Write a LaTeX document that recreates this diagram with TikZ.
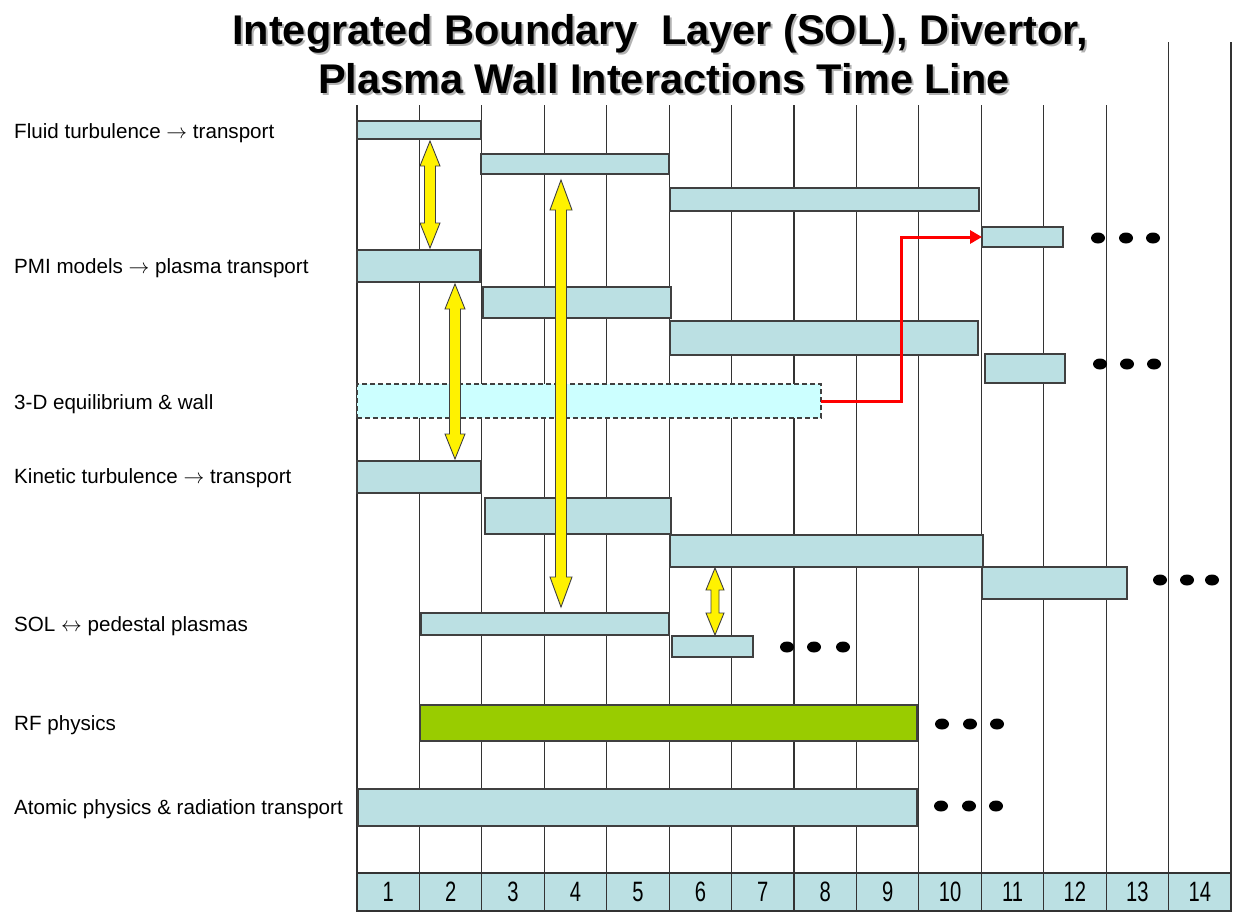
\documentclass[tikz,border=0pt]{standalone}
\usepackage{fontspec}
\setmainfont{Liberation Sans}
\usetikzlibrary{arrows.meta,calc}
\definecolor{barblue}{HTML}{BBE0E3}
\definecolor{eqcyan}{HTML}{CCFFFF}
\definecolor{rfgreen}{HTML}{99CC00}
\definecolor{edge}{HTML}{404040}
\definecolor{redline}{HTML}{FF0000}
\tikzset{
  bar/.style={draw=edge, fill=barblue, line width=1.1pt, inner sep=0pt, outer sep=0pt},
  greenbar/.style={bar, fill=rfgreen},
  eqbar/.style={bar, fill=eqcyan, dashed, dash pattern=on 5pt off 3pt},
  gridline/.style={draw=black!80, line width=1.1pt},
  cell/.style={draw=black!80, fill=barblue, line width=1.1pt, inner sep=0pt, outer sep=0pt,
    minimum width=62.43pt, minimum height=38pt, anchor=north west},
  rowlabel/.style={anchor=west, inner sep=0pt, font=\fontsize{20.6}{24}\selectfont},
  yarrow/.style={draw=edge, fill=yellow, line width=0.9pt, line join=miter},
  dot/.style={fill=black},
  link/.style={draw=redline, line width=3pt, -{Triangle[length=12pt,width=13pt]}},
  titletext/.style={font=\fontsize{41.5}{46}\selectfont\bfseries},
}
\newcommand\tbar[6]{\node[#6, anchor=north west, minimum width={(#4-#2)*1pt}, minimum height={(#5-#3)*1pt}] (#1) at (#2,#3) {};}
% x, from node (south), to node (north), shaft half, head half, head length, shrink
\newcommand\dblarrow[7]{%
  \draw[yarrow] let \p1=(#2.south), \p2=(#3.north) in
   (#1pt,{\y1-#7pt}) -- ({#1pt+#5pt},{\y1-#7pt-#6pt}) -- ({#1pt+#4pt},{\y1-#7pt-#6pt})
   -- ({#1pt+#4pt},{\y2+#7pt+#6pt}) -- ({#1pt+#5pt},{\y2+#7pt+#6pt}) -- (#1pt,{\y2+#7pt})
   -- ({#1pt-#5pt},{\y2+#7pt+#6pt}) -- ({#1pt-#4pt},{\y2+#7pt+#6pt})
   -- ({#1pt-#4pt},{\y1-#7pt-#6pt}) -- ({#1pt-#5pt},{\y1-#7pt-#6pt}) -- cycle;}
\newcommand\blackdot[2]{\fill[dot] (#1,#2) ellipse [x radius=7pt, y radius=5.5pt];}
\begin{document}
\begin{tikzpicture}[x=1pt,y=-1pt]
\fill[white] (0,0) rectangle (1234,911);
\useasboundingbox (0,0) rectangle (1234,911);
% title
\node[titletext, text=black!30] at (662,36) {Integrated Boundary\ \ Layer (SOL), Divertor,};
\node[titletext] (t1) at (660,34) {Integrated Boundary\ \ Layer (SOL), Divertor,};
\node[titletext, text=black!30] at (666,81) {Plasma Wall Interactions Time Line};
\node[titletext] (t2) at (664,79) {Plasma Wall Interactions Time Line};
% grid lines
\foreach \i in {0,...,12} {\draw[gridline] ({357+\i*62.43},105) -- ({357+\i*62.43},911);}
\foreach \i in {13,14} {\draw[gridline] ({357+\i*62.43},42) -- ({357+\i*62.43},911);}
% axis cells
\foreach \i in {1,...,14} {
  \node[cell] (c\i) at ({357+(\i-1)*62.43},873) {};
  \node[font=\fontsize{28}{30}\selectfont, xscale=0.72] at (c\i.center) {\i};
}
% labels
\node[rowlabel] (l1) at (14,133) {Fluid turbulence $\rightarrow$ transport};
\node[rowlabel] (l2) at (14,268) {PMI models $\rightarrow$ plasma transport};
\node[rowlabel] (l3) at (14,404) {3-D equilibrium \& wall};
\node[rowlabel] (l4) at (14,478) {Kinetic turbulence $\rightarrow$ transport};
\node[rowlabel] (l5) at (14,626) {SOL $\leftrightarrow$ pedestal plasmas};
\node[rowlabel] (l6) at (14,725) {RF physics};
\node[rowlabel] (l7) at (14,809) {Atomic physics \& radiation transport};
% bars
\tbar{f1}{357}{121}{481}{139}{bar}
\tbar{f2}{481}{154}{669}{174}{bar}
\tbar{f3}{670}{188}{979}{211}{bar}
\tbar{f4}{982}{227}{1063}{247}{bar}
\tbar{p1}{357}{250}{480}{282}{bar}
\tbar{p2}{483}{287}{671}{318}{bar}
\tbar{p3}{670}{321}{978}{355}{bar}
\tbar{p4}{985}{354}{1065}{383}{bar}
\tbar{eq}{357}{384}{821}{418}{eqbar}
\tbar{k1}{357}{461}{481}{493}{bar}
\tbar{k2}{485}{498}{671}{534}{bar}
\tbar{k3}{670}{535}{983}{567}{bar}
\tbar{k4}{982}{567}{1127}{599}{bar}
\tbar{s1}{421}{613}{669}{635}{bar}
\tbar{s2}{672}{636}{753}{657}{bar}
\tbar{rf}{420}{705}{917}{741}{greenbar}
\tbar{at}{358}{789}{917}{826}{bar}
% dots
\foreach \x in {1098,1126,1153} {\blackdot{\x}{238}}
\foreach \x in {1100,1127,1154} {\blackdot{\x}{364}}
\foreach \x in {1160,1187,1212} {\blackdot{\x}{580}}
\foreach \x in {787,814,843} {\blackdot{\x}{647}}
\foreach \x in {942,970,997} {\blackdot{\x}{724}}
\foreach \x in {941,969,996} {\blackdot{\x}{806}}
% red link
\draw[link] (eq.east) -- ++(80,0) |- (f4.west);
% yellow double arrows
\dblarrow{430}{f1}{p1}{5.5}{10}{25}{2}
\dblarrow{455}{p1}{k1}{5.5}{10}{25}{2}
\dblarrow{561}{f2}{s1}{5.5}{11}{30}{6}
\dblarrow{715}{k3}{s2}{4}{9}{22}{1}
\end{tikzpicture}
\end{document}
